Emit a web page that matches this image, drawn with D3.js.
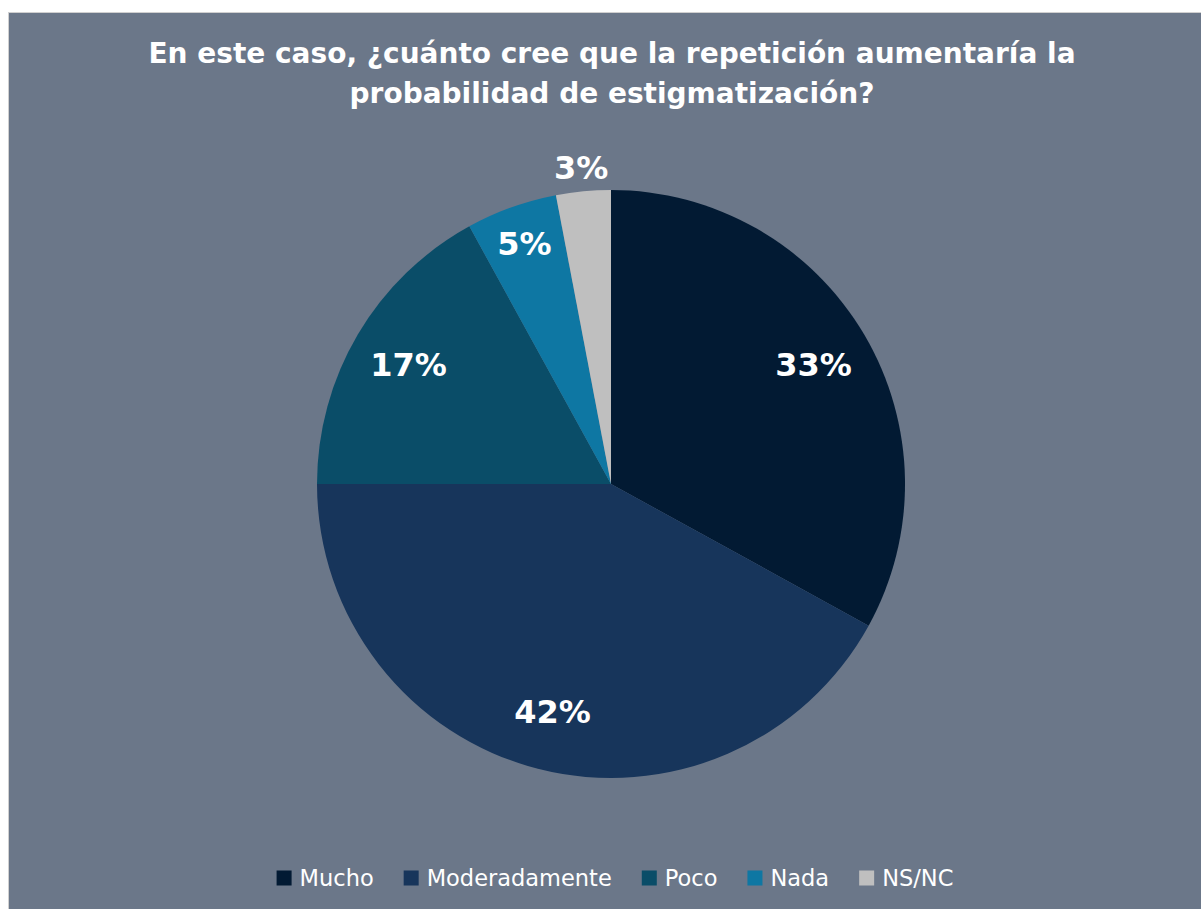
<!DOCTYPE html>
<html>
<head>
<meta charset="utf-8">
<script src="https://cdn.jsdelivr.net/npm/d3@7"></script>
<style>
  body { margin: 0; background: #fff; }
  text { fill: #fff; }
</style>
</head>
<body>
<script>
var width = 1201,
    height = 909;

var categories = ["Mucho", "Moderadamente", "Poco", "Nada", "NS/NC"];
var values = [33, 42, 17, 5, 3];
var colors = ["#021a33", "#17355b", "#0a4d68", "#0e77a3", "#bfbfbf"];
var titleLines = ["En este caso, ¿cuánto cree que la repetición aumentaría la",
                  "probabilidad de estigmatización?"];

var data = categories.map(function(c, i) { return {name: c, value: values[i]}; });

var color = d3.scaleOrdinal().domain(categories).range(colors);

var svg = d3.select("body").append("svg")
    .attr("width", width)
    .attr("height", height);

// chart area with thin border
svg.append("rect")
    .attr("x", 8.5)
    .attr("y", 12.5)
    .attr("width", width)
    .attr("height", height)
    .style("fill", "#6b7789")
    .style("stroke", "#d0d0d0")
    .style("stroke-width", 1);

svg.append("g")
    .attr("class", "title")
  .selectAll("text")
    .data(titleLines)
  .enter().append("text")
    .attr("x", 612)
    .attr("y", function(d, i) { return 63 + i * 40; })
    .attr("text-anchor", "middle")
    .style("font-family", "DejaVu Sans")
    .style("font-weight", "bold")
    .style("font-size", "28px")
    .text(function(d) { return d; });

var cx = 611, cy = 484, radius = 294;

var pie = d3.pie()
    .sort(null)
    .value(function(d) { return d.value; });

var arc = d3.arc()
    .innerRadius(0)
    .outerRadius(radius);

var g = svg.append("g")
    .attr("transform", "translate(" + cx + "," + cy + ")");

var arcs = pie(data);

g.selectAll("path")
    .data(arcs)
  .enter().append("path")
    .attr("d", arc)
    .style("fill", function(d) { return color(d.data.name); });

function labelRadius(v) {
  if (v < 4) return radius + 24;
  if (v < 10) return radius * 0.87;
  return radius * 0.8;
}

g.selectAll(".label")
    .data(arcs)
  .enter().append("text")
    .attr("class", "label")
    .attr("transform", function(d) {
      var r = labelRadius(d.data.value);
      var a = (d.startAngle + d.endAngle) / 2;
      return "translate(" + (Math.sin(a) * r) + "," + (-Math.cos(a) * r) + ")";
    })
    .attr("text-anchor", "middle")
    .attr("dy", "0.36em")
    .style("font-family", "DejaVu Sans")
    .style("font-weight", "bold")
    .style("font-size", "32px")
    .text(function(d) { return d.data.value + "%"; });

// legend
var legend = svg.append("g").attr("class", "legend");

var items = legend.selectAll("g")
    .data(categories)
  .enter().append("g");

items.append("rect")
    .attr("width", 15)
    .attr("height", 15)
    .attr("y", -7.5)
    .style("fill", function(d) { return color(d); });

items.append("text")
    .attr("x", 23)
    .attr("dy", "0.35em")
    .style("font-family", "DejaVu Sans")
    .style("font-size", "22.5px")
    .text(function(d) { return d; });

var x = 0;
items.each(function() {
  var w = 23 + this.querySelector("text").getComputedTextLength();
  d3.select(this).attr("transform", "translate(" + x + ",0)");
  x += w + 30;
});
var total = x - 30;
legend.attr("transform", "translate(" + (cx + 4 - total / 2) + ",878)");
</script>
</body>
</html>
